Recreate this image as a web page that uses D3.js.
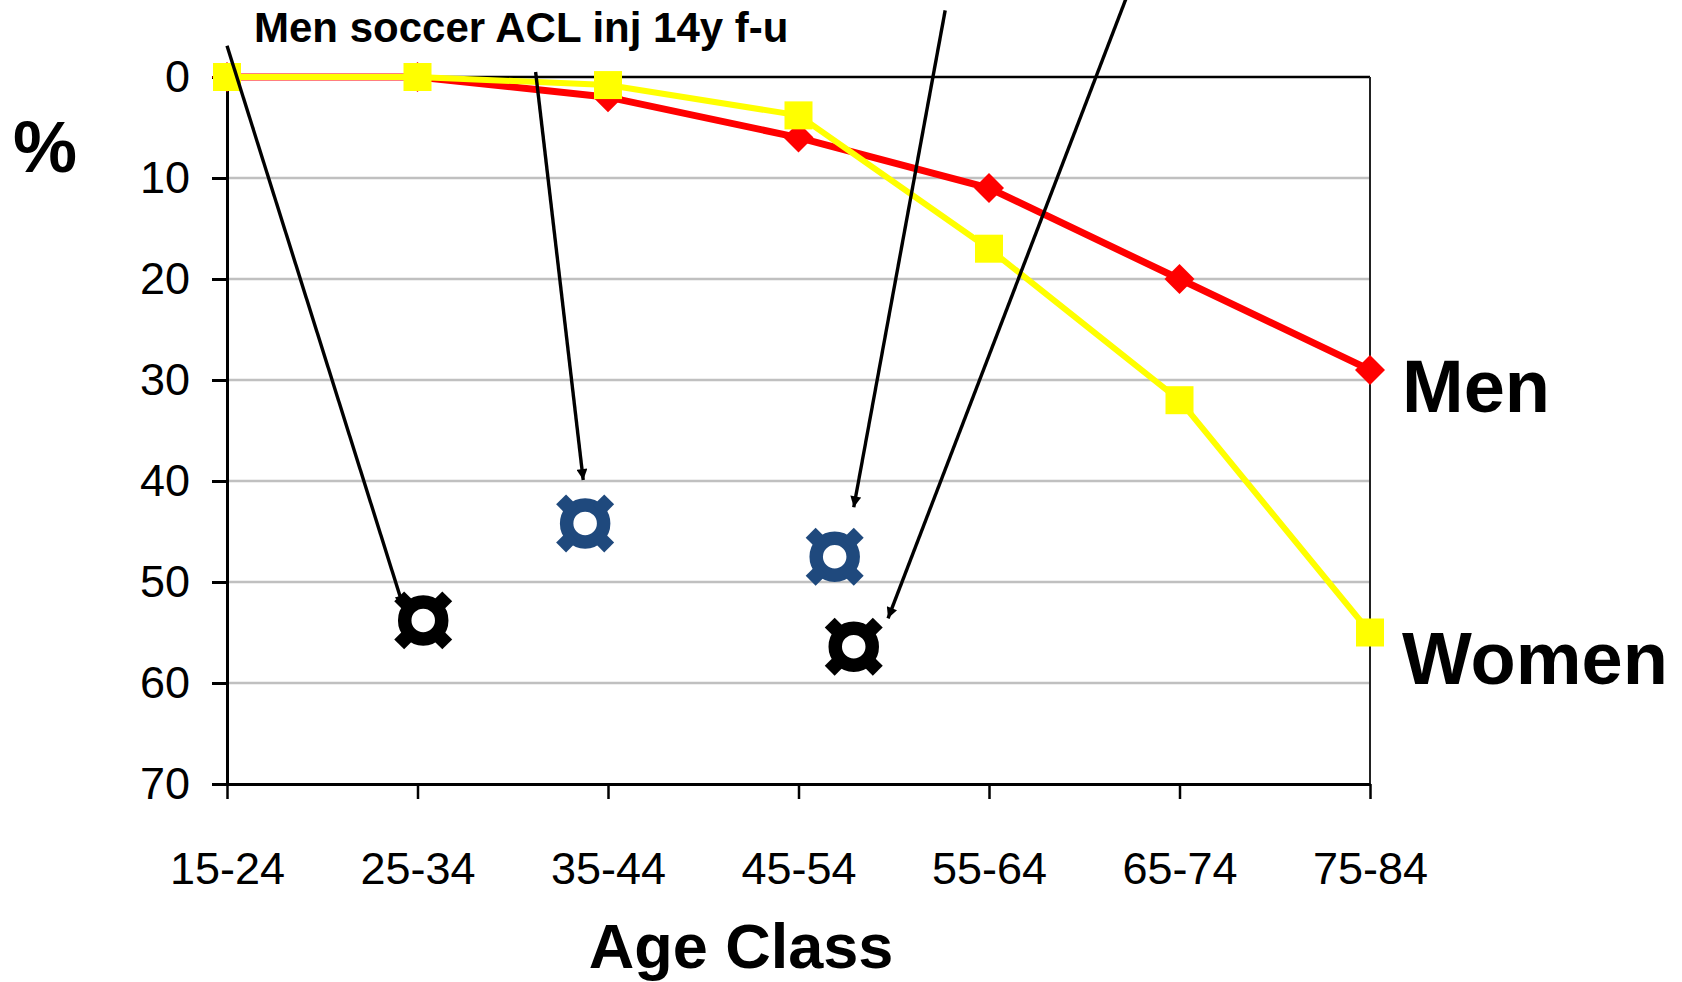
<!DOCTYPE html>
<html>
<head>
<meta charset="utf-8">
<script src="https://cdn.jsdelivr.net/npm/d3@7"></script>
<style>
  html, body { margin: 0; padding: 0; background: #fff; }
  svg { display: block; font-family: "Liberation Sans", Arial, Helvetica, sans-serif; }
</style>
</head>
<body>
<svg id="chart" width="1682" height="982"></svg>
<script>
// Age classes along the x axis
const categories = ["15-24", "25-34", "35-44", "45-54", "55-64", "65-74", "75-84"];

// Percentage per age class (axis runs downward from 0 to 70)
const menValues = [0, 0, 2, 6, 11, 20, 29];
const womenValues = [0, 0, 0.8, 3.8, 17, 32, 55];

const yTickValues = [0, 10, 20, 30, 40, 50, 60, 70];

// Individual cohort results, placed by fractional age-class position
const cohortPositions = [1.03, 1.88, 3.19, 3.29];
const cohortValues = [53.8, 44.2, 47.5, 56.4];
const cohortColors = ["#000000", "#1F497D", "#1F497D", "#000000"];

// Callout arrows (start and tip in age-class position / percent units)
const arrowStarts = [[0.0, -3.1], [1.62, -0.5], [3.77, -6.6], [4.72, -7.8]];
const arrowTips = [[0.925, 52.4], [1.87, 39.9], [3.29, 42.6], [3.47, 53.6]];

const seriesNames = ["Men", "Women"];
const titleText = "Men soccer ACL inj 14y f-u";

const svg = d3.select("#chart");
const plotLeft = 227, plotRight = 1370, plotTop = 77, plotBottom = 784;

const x = d3.scalePoint().domain(categories).range([plotLeft, plotRight]).padding(0);
const xPos = d3.scaleLinear().domain([0, categories.length - 1]).range([plotLeft, plotRight]);
const y = d3.scaleLinear().domain([0, 70]).range([plotTop, plotBottom]);

// Horizontal gridlines
svg.append("g")
  .selectAll("line")
  .data(yTickValues.filter(v => v > 0 && v < 70))
  .join("line")
  .attr("x1", plotLeft).attr("x2", plotRight)
  .attr("y1", d => y(d)).attr("y2", d => y(d))
  .attr("stroke", "#c0c0c0").attr("stroke-width", 2.5);

// Plot frame: top and right edges
svg.append("line").attr("x1", plotLeft).attr("x2", plotRight).attr("y1", plotTop).attr("y2", plotTop)
  .attr("stroke", "#000").attr("stroke-width", 2.5);
svg.append("line").attr("x1", plotRight).attr("x2", plotRight).attr("y1", plotTop).attr("y2", plotBottom)
  .attr("stroke", "#222").attr("stroke-width", 2);

// Y axis
const yAxis = svg.append("g")
  .attr("transform", `translate(${plotLeft},0)`)
  .call(d3.axisLeft(y).tickValues(yTickValues).tickSize(15).tickSizeOuter(0).tickPadding(22));
yAxis.select(".domain").attr("stroke", "#000").attr("stroke-width", 3);
yAxis.selectAll(".tick line").attr("stroke", "#000").attr("stroke-width", 3);
yAxis.selectAll(".tick text")
  .attr("font-size", 45).attr("fill", "#000")
  .style("font-family", "'Liberation Sans', Arial, sans-serif");

// X axis
const xAxis = svg.append("g")
  .attr("transform", `translate(0,${plotBottom})`)
  .call(d3.axisBottom(x).tickSize(15).tickSizeOuter(0).tickPadding(53));
xAxis.select(".domain").attr("stroke", "#000").attr("stroke-width", 3);
xAxis.selectAll(".tick line").attr("stroke", "#000").attr("stroke-width", 2.5);
xAxis.selectAll(".tick text")
  .attr("font-size", 45).attr("fill", "#000")
  .style("font-family", "'Liberation Sans', Arial, sans-serif");

// Series lines
const line = d3.line().x((d, i) => x(categories[i])).y(d => y(d));

svg.append("path").datum(menValues)
  .attr("d", line).attr("fill", "none")
  .attr("stroke", "#FF0000").attr("stroke-width", 7).attr("stroke-linejoin", "miter");
svg.append("g").selectAll("path")
  .data(menValues)
  .join("path")
  .attr("d", d3.symbol(d3.symbolSquare, 30 * 30 / 2)())
  .attr("transform", (d, i) => `translate(${x(categories[i])},${y(d)}) rotate(45)`)
  .attr("fill", "#FF0000");

svg.append("path").datum(womenValues)
  .attr("d", line).attr("fill", "none")
  .attr("stroke", "#FFFF00").attr("stroke-width", 6).attr("stroke-linejoin", "miter");
svg.append("g").selectAll("rect")
  .data(womenValues)
  .join("rect")
  .attr("x", (d, i) => x(categories[i]) - 14)
  .attr("y", d => y(d) - 14)
  .attr("width", 28).attr("height", 28)
  .attr("fill", "#FFFF00");

// Callout arrows
svg.append("defs").append("marker")
  .attr("id", "arrowhead")
  .attr("viewBox", "0 0 10 10")
  .attr("refX", 10).attr("refY", 5)
  .attr("markerWidth", 3.6).attr("markerHeight", 3.2)
  .attr("markerUnits", "strokeWidth")
  .attr("orient", "auto")
  .append("path").attr("d", "M0,0 L10,5 L0,10 Z").attr("fill", "#000");

svg.append("g").selectAll("line")
  .data(arrowStarts)
  .join("line")
  .attr("x1", d => xPos(d[0])).attr("y1", d => y(d[1]))
  .attr("x2", (d, i) => xPos(arrowTips[i][0])).attr("y2", (d, i) => y(arrowTips[i][1]))
  .attr("stroke", "#000").attr("stroke-width", 3.4)
  .attr("marker-end", "url(#arrowhead)");

// Cohort markers: thick ring with four short diagonal spokes
const cohort = svg.append("g").selectAll("g")
  .data(cohortValues)
  .join("g")
  .attr("transform", (d, i) => `translate(${xPos(cohortPositions[i])},${y(d)})`);
cohort.append("circle")
  .attr("r", 18.5).attr("fill", "none")
  .attr("stroke", (d, i) => cohortColors[i]).attr("stroke-width", 13.5);
[45, 135, 225, 315].forEach(angle => {
  cohort.append("rect")
    .attr("x", 18).attr("y", -7).attr("width", 16).attr("height", 14)
    .attr("transform", `rotate(${angle})`)
    .attr("fill", (d, i) => cohortColors[i]);
});

// Series labels next to the last points
svg.append("text")
  .attr("x", plotRight + 32).attr("y", y(menValues[6]) + 42)
  .attr("font-size", 74).attr("font-weight", "bold").attr("fill", "#000")
  .text(seriesNames[0]);
svg.append("text")
  .attr("x", plotRight + 32).attr("y", y(womenValues[6]) + 51)
  .attr("font-size", 74).attr("font-weight", "bold").attr("fill", "#000")
  .text(seriesNames[1]);

// Title, axis titles
svg.append("text")
  .attr("x", 254).attr("y", 42)
  .attr("font-size", 42).attr("font-weight", "bold").attr("fill", "#000")
  .text(titleText);

svg.append("text")
  .attr("x", 13).attr("y", 172)
  .attr("font-size", 72).attr("font-weight", "bold").attr("fill", "#000")
  .text("%");

svg.append("text")
  .attr("x", 741).attr("y", 968)
  .attr("text-anchor", "middle")
  .attr("font-size", 63).attr("font-weight", "bold").attr("fill", "#000")
  .text("Age Class");
</script>
</body>
</html>
